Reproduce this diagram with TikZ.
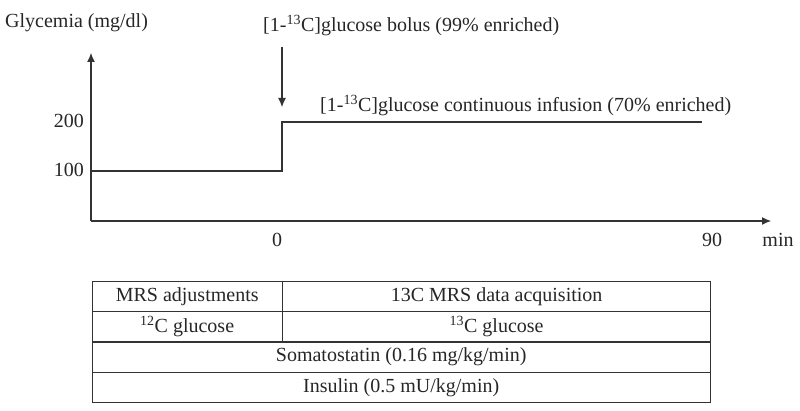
\documentclass[tikz,border=0pt]{standalone}
\usepackage{fontspec}
\setmainfont{Liberation Serif}
\usepackage{tikz}
\usetikzlibrary{positioning}
\usetikzlibrary{calc}
\usetikzlibrary{arrows.meta}

\begin{document}
\begin{tikzpicture} [
    x=1pt, y=-1pt,                 % pixel-like units, y pointing down
    font=\fontsize{20}{23}\selectfont,
    ]
% ------------------------------------------------- 
\tikzset{
  txt/.style={inner sep=0pt, text=black!85},
  cell/.style={draw, rectangle, anchor=north west, inner sep=0pt, minimum height=30pt, text=black!85},
  axis/.style={draw, line width=1.1pt, -{Latex[length=9pt,width=8pt]}},
  curve/.style={draw, line width=1.1pt},
}
    \useasboundingbox (0,0) rectangle (800,411);
    \tikzset{every path/.style={color=black!80}}

    % axes
    \coordinate (o) at (91,221);
    \coordinate (ytip) at (91,53);
    \coordinate (xtip) at (771,221);
    \path [axis] (o) -- (ytip);
    \path [axis] (o) -- (xtip);

    % glycemia step
    \coordinate (g1) at (91,171);
    \coordinate (g2) at (282,171);
    \coordinate (g3) at (282,122);
    \coordinate (g4) at (702,122);
    \path [curve] (g1) -- (g2) -- (g3) -- (g4);

    % labels
    \node [txt, anchor=base west] (ylab) at (5,28) {Glycemia (mg/dl)};
    \node [txt, anchor=base east] (l200) at (84,128) {200};
    \node [txt, anchor=base east] (l100) at (84,177) {100};
    \node [txt, anchor=base] (t0) at (277,247) {0};
    \node [txt, anchor=base] (t90) at (712,247) {90};
    \node [txt, anchor=base] (tmin) at (778,247) {min};

    \node [txt, anchor=base west] (bolus) at (263,32) {[1-\textsuperscript{13}C]glucose bolus (99\% enriched)};
    \node [txt, anchor=base west] (infus) at (320,112) {[1-\textsuperscript{13}C]glucose continuous infusion (70\% enriched)};
    \coordinate (btop) at (282,47);
    \coordinate (btip) at (282,107);
    \path [axis] (btop) -- (btip);

    % protocol table
    \node [cell, minimum width=190pt] (mrsadj) at (92,281) {MRS adjustments};
    \node [cell, minimum width=428pt] (mrsacq) at (mrsadj.north east) {13C MRS data acquisition};
    \node [cell, minimum width=190pt] (glc12) at (mrsadj.south west) {\textsuperscript{12}C glucose};
    \node [cell, minimum width=428pt] (glc13) at (glc12.north east) {\textsuperscript{13}C glucose};
    \node [cell, minimum width=618pt] (somato) at (glc12.south west) {Somatostatin (0.16 mg/kg/min)};
    \node [cell, minimum width=618pt] (insul) at (somato.south west) {Insulin (0.5 mU/kg/min)};
    
\end{tikzpicture}
\end{document}
